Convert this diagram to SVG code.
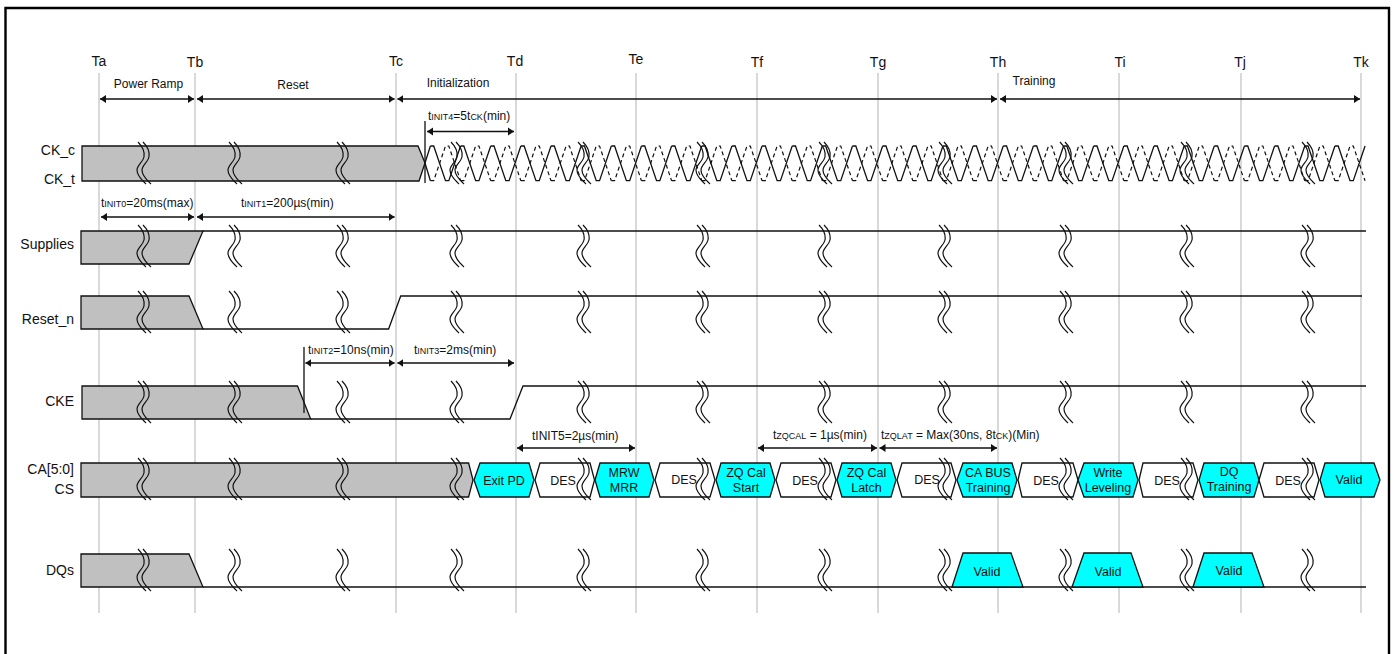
<svg xmlns="http://www.w3.org/2000/svg" width="1394" height="654" viewBox="0 0 1394 654">
<style>
text{font-family:"Liberation Sans",Arial,sans-serif;font-size:12px;fill:#111}
.t{font-size:14px;text-anchor:middle}
.s{font-size:14px;text-anchor:end}
.m{text-anchor:middle}
.x{font-size:12.5px;text-anchor:middle}
tspan.b{font-size:9px}
.g{fill:#c0c0c0;stroke:#111;stroke-width:1.3}
.c{fill:#00ffff;stroke:#111;stroke-width:1.3}
.w{fill:#fff;stroke:#111;stroke-width:1.3}
.l{fill:none;stroke:#111;stroke-width:1.3}
.v{stroke:#c0c0c0;stroke-width:1.2;fill:none}
.a{stroke:#111;stroke-width:1.3;fill:none;marker-start:url(#ah);marker-end:url(#ah)}
.k{stroke:#111;stroke-width:1.3;fill:none}
.br{fill:none;stroke:#111;stroke-width:1.2}
</style>
<defs>
<marker id="ah" markerUnits="userSpaceOnUse" markerWidth="7" markerHeight="10" refX="6" refY="4.5" orient="auto-start-reverse"><path d="M0,0.5L6,4.5L0,8.5Z" fill="#111"/></marker>
<g id="brk"><path class="br" d="M0,0C4,4 7,9 6,15C5,20 -1,23 -1,28C-1,34 4,38 8,42"/><path class="br" transform="translate(5,0)" d="M0,0C4,4 7,9 6,15C5,20 -1,23 -1,28C-1,34 4,38 8,42"/></g>
<g id="brkrow">
<use href="#brk" x="138"/><use href="#brk" x="229"/><use href="#brk" x="337"/><use href="#brk" x="451"/><use href="#brk" x="578"/><use href="#brk" x="697"/><use href="#brk" x="819"/><use href="#brk" x="939"/><use href="#brk" x="1060"/><use href="#brk" x="1181"/><use href="#brk" x="1302"/>
</g>
<path id="up" d="M0,0h3.3l11.8,34.7h3.3l11.75,-34.7" fill="none" stroke="#111" stroke-width="1.3"/>
<path id="dn" d="M0,34.7h3.3l11.8,-34.7h3.3l11.75,34.7" fill="none" stroke="#111" stroke-width="1.2" stroke-dasharray="4 3"/>
<g id="ckper"><use href="#up"/><use href="#dn"/></g>
<g id="ck4"><use href="#ckper"/><use href="#ckper" x="30.15"/><use href="#ckper" x="60.3"/><use href="#ckper" x="90.45"/></g>
</defs>
<rect x="0" y="0" width="1394" height="654" fill="#fff"/>
<path d="M5.5,660V8H1389V660" fill="none" stroke="#000" stroke-width="2.4"/>

<g id="timelines">
<path class="v" d="M99,73V613M195,73V613M396,73V613M516,73V613M636,73V613M757,73V613M878,73V613M998,73V613M1119,73V613M1241,73V613M1361,73V613"/>
<text class="t" x="99" y="66">Ta</text><text class="t" x="195" y="67">Tb</text><text class="t" x="396" y="66">Tc</text><text class="t" x="515" y="66">Td</text><text class="t" x="636" y="64">Te</text><text class="t" x="757" y="67">Tf</text><text class="t" x="878" y="67">Tg</text><text class="t" x="998" y="67">Th</text><text class="t" x="1120" y="67">Ti</text><text class="t" x="1240" y="67">Tj</text><text class="t" x="1361" y="67">Tk</text>
</g>

<g id="sig-ck">
<text class="s" x="75" y="155">CK_c</text><text class="s" x="75" y="184">CK_t</text>
<path class="g" d="M82,146H418L425,163L419,181H82Z"/>
<g transform="translate(430.4,146)"><use href="#ck4"/><use href="#ck4" x="120.6"/><use href="#ck4" x="241.2"/><use href="#ck4" x="361.8"/><use href="#ck4" x="482.4"/><use href="#ck4" x="603"/><use href="#ck4" x="723.6"/><use href="#ckper" x="844.2"/><use href="#ckper" x="874.35"/><use href="#ckper" x="904.5"/></g>
<path class="l" d="M425,163L430.4,146M425,163L430.4,180.7" />
</g>

<g id="sig-supplies">
<text class="s" x="74" y="249">Supplies</text>
<path class="g" d="M81,231H203L189,264H81Z"/><path class="l" d="M203,231H1366"/>
</g>
<g id="sig-reset">
<text class="s" x="74" y="324">Reset_n</text>
<path class="g" d="M81,296H189L203,329H81Z"/><path class="l" d="M203,329H388.6L400.7,296H1362"/>
</g>
<g id="sig-cke">
<text class="s" x="74" y="406">CKE</text>
<path class="g" d="M82,386H297.5L310.7,419H82Z"/><path class="l" d="M310.7,419H510L523,386H1366"/>
</g>
<g id="sig-ca">
<text class="s" x="74" y="474">CA[5:0]</text><text class="s" x="74" y="494">CS</text>
<path class="g" d="M81,463H468.6L473,480L468.6,497H81Z"/>
<g id="ca-exit"><path class="c" d="M474,480L480,463H529L534,480L529,497H480Z"/><text class="x" x="504" y="485">Exit PD</text></g>
<g id="ca-des1"><path class="w" d="M535,480L540,463H590L594.5,480L590,497H540Z"/><text class="x" x="563" y="485">DES</text></g>
<g id="ca-mrw"><path class="c" d="M595,480L600,463H649L654,480L649,497H600Z"/><text class="x" x="624" y="477">MRW</text><text class="x" x="624" y="492">MRR</text></g>
<g id="ca-des2"><path class="w" d="M655,480L660,463H710L715,480L710,497H660Z"/><text class="x" x="684" y="484">DES</text></g>
<g id="ca-zq1"><path class="c" d="M716,480L721,463H770L775,480L770,497H721Z"/><text class="x" x="746" y="477">ZQ Cal</text><text class="x" x="746" y="492">Start</text></g>
<g id="ca-des3"><path class="w" d="M776,480L781,463H831L836,480L831,497H781Z"/><text class="x" x="805" y="485">DES</text></g>
<g id="ca-zq2"><path class="c" d="M837,480L842,463H891L896,480L891,497H842Z"/><text class="x" x="866.5" y="477">ZQ Cal</text><text class="x" x="866.5" y="492">Latch</text></g>
<g id="ca-des4"><path class="w" d="M897,480L902,463H951L956,480L951,497H902Z"/><text class="x" x="927" y="484">DES</text></g>
<g id="ca-bus"><path class="c" d="M957,480L963,463H1012L1017,480L1012,497H963Z"/><text class="x" x="988" y="477">CA BUS</text><text class="x" x="988" y="492">Training</text></g>
<g id="ca-des5"><path class="w" d="M1018,480L1022,463H1073L1078,480L1073,497H1022Z"/><text class="x" x="1046" y="485">DES</text></g>
<g id="ca-wl"><path class="c" d="M1078,480L1084,463H1133L1138,480L1133,497H1084Z"/><text class="x" x="1108" y="477">Write</text><text class="x" x="1108" y="492">Leveling</text></g>
<g id="ca-des6"><path class="w" d="M1139,480L1143,463H1193L1198,480L1193,497H1143Z"/><text class="x" x="1167" y="485">DES</text></g>
<g id="ca-dq"><path class="c" d="M1199,480L1204,463H1254L1259,480L1254,497H1204Z"/><text class="x" x="1229" y="476">DQ</text><text class="x" x="1229" y="491">Training</text></g>
<g id="ca-des7"><path class="w" d="M1259,480L1264,463H1314L1319,480L1314,497H1264Z"/><text class="x" x="1288" y="485">DES</text></g>
<g id="ca-valid"><path class="c" d="M1320,480L1325,463H1374L1380,480L1374,497H1325Z"/><text class="x" x="1349" y="484">Valid</text></g>
</g>
<g id="sig-dqs">
<text class="s" x="74" y="575">DQs</text>
<path class="g" d="M81,554H189L203,587H81Z"/><path class="l" d="M203,587H1366"/>
<g id="dq-valid1"><path class="c" d="M952,587L963,553H1011L1023,587Z"/><text class="x" x="987" y="576">Valid</text></g>
<g id="dq-valid2"><path class="c" d="M1072,587L1084,553H1131L1143,587Z"/><text class="x" x="1108" y="576">Valid</text></g>
<g id="dq-valid3"><path class="c" d="M1193,587L1204,553H1252L1264,587Z"/><text class="x" x="1229" y="575">Valid</text></g>
</g>

<g id="breaks">
<use href="#brkrow" y="142"/><use href="#brkrow" y="225"/><use href="#brkrow" y="291"/><use href="#brkrow" y="381"/><use href="#brkrow" y="458"/><use href="#brkrow" y="549"/>
</g>

<g id="connectors">
<path class="a" d="M100,99H194"/><path class="a" d="M197,99H394.6"/><path class="a" d="M397.4,99H997"/><path class="a" d="M1000,99H1360"/>
<path class="a" d="M101,217H194"/><path class="a" d="M197,217H394.6"/>
<path class="a" d="M427,131.5H514"/>
<path class="a" d="M305.4,363H394.6"/><path class="a" d="M397.4,363H514"/>
<path class="a" d="M517,448H635"/><path class="a" d="M758,448H877"/><path class="a" d="M879.5,448H997"/>
<path class="k" d="M425,121V183M304,347V413"/>
</g>

<g id="labels">
<text class="m" x="148.500" y="88">Power Ramp</text>
<text class="m" x="293" y="89">Reset</text>
<text class="m" x="458" y="87">Initialization</text>
<text class="m" x="1034" y="85">Training</text>
<text x="101" y="207">t<tspan class="b">INIT0</tspan>=20ms(max)</text>
<text x="241" y="207">t<tspan class="b">INIT1</tspan>=200µs(min)</text>
<text x="428" y="120">t<tspan class="b">INIT4</tspan>=5t<tspan class="b">CK</tspan>(min)</text>
<text x="308" y="354">t<tspan class="b">INIT2</tspan>=10ns(min)</text>
<text x="414" y="354">t<tspan class="b">INIT3</tspan>=2ms(min)</text>
<text x="532" y="440">tINIT5=2µs(min)</text>
<text x="773" y="439">t<tspan class="b">ZQCAL</tspan> = 1µs(min)</text>
<text x="881" y="439">t<tspan class="b">ZQLAT</tspan> = Max(30ns, 8t<tspan class="b">CK</tspan>)(Min)</text>
</g>
</svg>
